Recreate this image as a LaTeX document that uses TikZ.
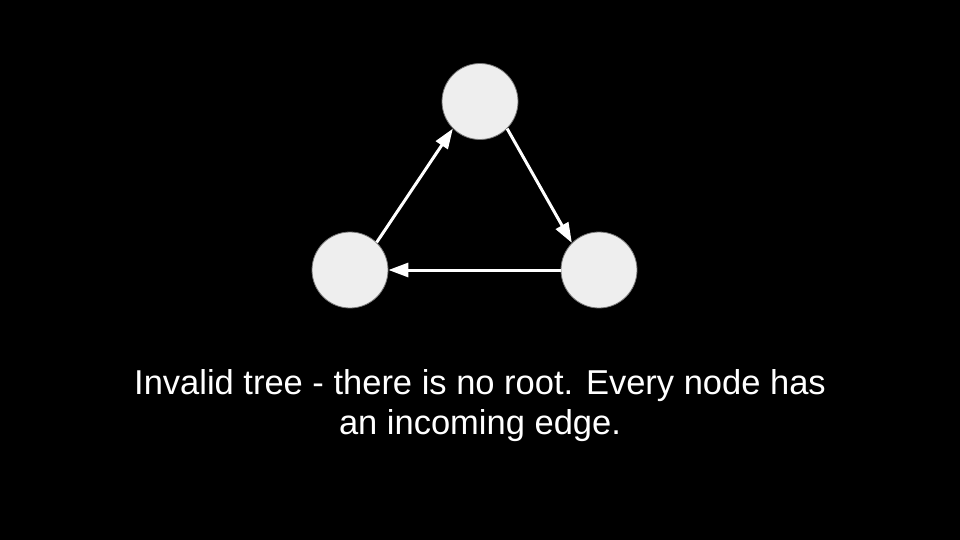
\documentclass[tikz,border=0pt]{standalone}
\usepackage{fontspec}
\setmainfont{Liberation Sans}
\usetikzlibrary{arrows.meta}
\begin{document}
\begin{tikzpicture}[x=1pt,y=-1pt,
  vertex/.style={circle,fill={rgb,255:red,238;green,238;blue,238},draw={rgb,255:red,120;green,120;blue,120},line width=0.8pt,minimum size=76pt,inner sep=0pt},
  edge/.style={draw=white,line width=3pt,-{Triangle[length=20pt,width=14pt]}}]
\fill[black] (0,0) rectangle (960,540);
\useasboundingbox (0,0) rectangle (960,540);
\node[vertex] (top) at (480,101.5) {};
\node[vertex] (left) at (350,270) {};
\node[vertex] (right) at (599,270) {};
\draw[edge] (left.46) -- (top.225);
\draw[edge] (top.315) -- (right.135);
\draw[edge] (right.180) -- (left.0);
\node[text=white,font=\fontsize{34.5}{40}\selectfont,align=center] (caption) at (480,406) {Invalid tree - there is no root. Every node has\\an incoming edge.};
\end{tikzpicture}
\end{document}
